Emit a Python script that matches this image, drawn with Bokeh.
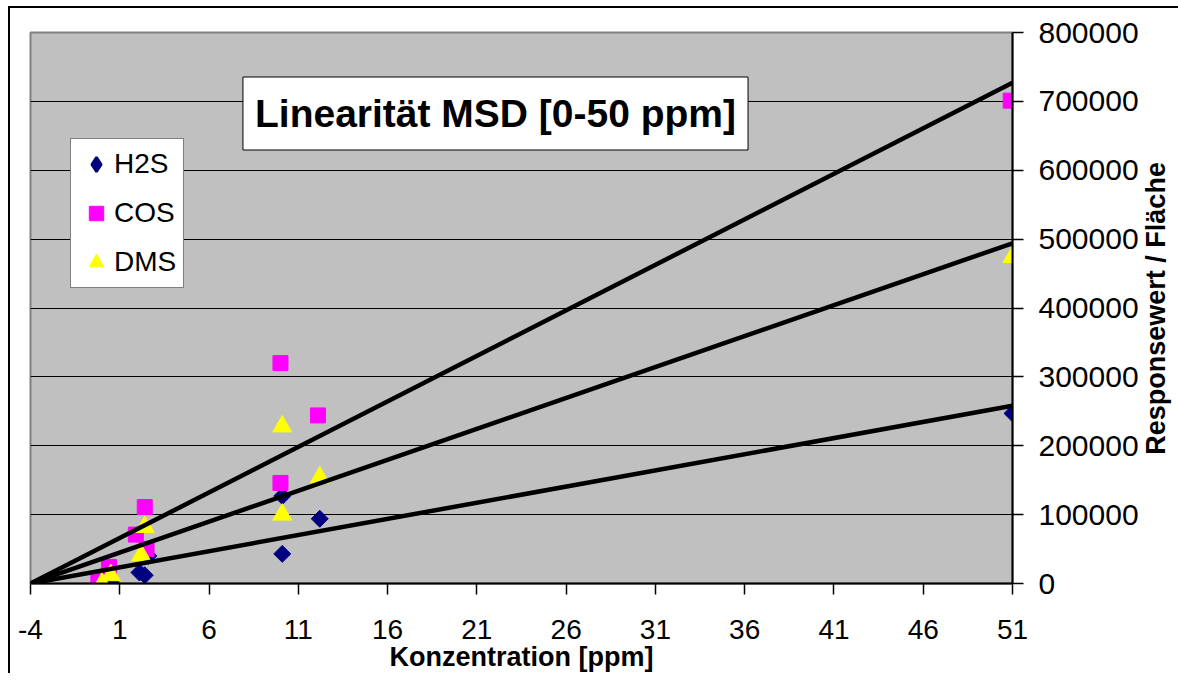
import math
from bokeh.plotting import figure
from bokeh.models import (FixedTicker, BasicTickFormatter, Label, Legend,
                          LegendItem, LinearAxis)
from bokeh.embed import file_html
from bokeh.resources import INLINE

# ---------------- data ----------------
x_ticks = [-4, 1, 6, 11, 16, 21, 26, 31, 36, 41, 46, 51]
y_ticks = [0, 100000, 200000, 300000, 400000, 500000, 600000, 700000, 800000]

h2s_x = [0.5, 2.1, 2.4, 2.6, 10.1, 10.1, 12.2, 51.0]
h2s_y = [2000, 16000, 12000, 40000, 43000, 127000, 94000, 247000]

cos_x = [-0.2, 0.4, 1.9, 2.4, 2.5, 10.0, 10.0, 12.1, 50.9]
cos_y = [4000, 24000, 71000, 111000, 50000, 146000, 320000, 244000, 701000]

dms_x = [0.0, 0.5, 2.2, 2.4, 10.1, 10.1, 12.2, 51.0]
dms_y = [0, 12000, 41000, 82000, 100000, 228000, 154000, 474000]

trend_x = [-4, 51]
trend_h2s = [0, 258000]
trend_cos = [0, 727000]
trend_dms = [0, 494000]

# layout helper: where the rotated right-hand title starts (bottom end of the text)
YTITLE_ANCHOR = 187000

FONT = "Liberation Sans"

p = figure(width=1179, height=667, x_range=(-4, 51), y_range=(0, 800000),
           y_axis_location="right", output_backend="svg", toolbar_location=None,
           min_border_left=20, min_border_top=24, min_border_right=175,
           min_border_bottom=92)

p.styles = {"margin-left": "8px", "margin-top": "6px",
            "border-left": "2px solid black", "border-top": "2px solid black"}
p.background_fill_color = "#C0C0C0"
p.border_fill_color = "white"
p.outline_line_color = "#808080"
p.outline_line_width = 2

p.xgrid.visible = False
p.ygrid.grid_line_color = "black"
p.ygrid.grid_line_width = 1
p.ygrid.grid_line_alpha = 1.0

# axes
p.xaxis.ticker = FixedTicker(ticks=x_ticks)
p.xaxis.major_label_overrides = {t: str(t) for t in x_ticks}
p.yaxis.ticker = FixedTicker(ticks=y_ticks)
p.yaxis.formatter = BasicTickFormatter(use_scientific=False)

for ax in (p.xaxis, p.yaxis):
    ax.axis_line_color = "black"
    ax.axis_line_width = 2
    ax.major_tick_line_color = "black"
    ax.major_tick_line_width = 1.5
    ax.major_tick_in = 0
    ax.major_tick_out = 11
    ax.minor_tick_line_color = None
    ax.major_label_text_font = FONT
    ax.major_label_text_color = "black"
    ax.axis_label_text_font = FONT
    ax.axis_label_text_font_style = "bold"
    ax.axis_label_text_font_size = "27px"
    ax.axis_label_text_color = "black"
    ax.axis_label_standoff = 0

p.xaxis.major_label_text_font_size = "28px"
p.xaxis.major_label_standoff = 25
p.xaxis.axis_label = "Konzentration [ppm]"
p.yaxis.major_label_text_font_size = "30px"
p.yaxis.major_label_standoff = 15

# right-hand title, drawn as a single rotated tick label of an extra axis
ytitle_axis = LinearAxis(ticker=FixedTicker(ticks=[YTITLE_ANCHOR]),
                         major_label_overrides={YTITLE_ANCHOR: "Responsewert / Fläche"},
                         major_label_orientation=math.pi / 2,
                         axis_line_color=None, major_tick_line_color=None,
                         minor_tick_line_color=None, major_tick_in=0,
                         major_tick_out=0, major_label_standoff=15,
                         major_label_text_font=FONT,
                         major_label_text_font_style="bold",
                         major_label_text_font_size="27px",
                         major_label_text_color="black")
p.add_layout(ytitle_axis, "right")

# markers
r_h2s = p.scatter(h2s_x, h2s_y, marker="square", angle=math.pi / 4, size=12,
                  fill_color="#000080", line_color="#000080")
r_cos = p.scatter(cos_x, cos_y, marker="square", size=15,
                  fill_color="#FF00FF", line_color="#FF00FF")
r_dms = p.scatter(dms_x, dms_y, marker="triangle", size=19,
                  fill_color="#FFFF00", line_color="#FFFF00")
# hidden proxy so that the legend shows a diamond symbol for H2S
r_h2s_leg = p.scatter(h2s_x, h2s_y, marker="diamond", size=12, visible=False,
                      fill_color="#000080", line_color="#000080",
                      line_width=2.5)

# trend lines
for ty in (trend_h2s, trend_cos, trend_dms):
    p.line(trend_x, ty, line_color="black", line_width=4.5)

# title box
p.add_layout(Label(x=465, y=470, x_units="screen", y_units="screen",
                   text="Linearität MSD [0-50 ppm]", text_font=FONT,
                   text_font_style="bold", text_font_size="39px",
                   text_color="black",
                   text_align="center", text_baseline="middle",
                   background_fill_color="white", border_line_color="black",
                   border_line_width=1, padding=(12, 15)))

legend = Legend(items=[LegendItem(label="H2S", renderers=[r_h2s_leg]),
                       LegendItem(label="COS", renderers=[r_cos]),
                       LegendItem(label="DMS", renderers=[r_dms])],
                location=(40, 295))
legend.border_line_color = "black"
legend.border_line_width = 1
legend.background_fill_color = "white"
legend.background_fill_alpha = 1.0
legend.label_text_font = FONT
legend.label_text_font_size = "28px"
legend.label_text_color = "black"
legend.glyph_width = 36
legend.glyph_height = 36
legend.label_height = 36
legend.spacing = 13
legend.padding = 7
legend.margin = 0
legend.label_standoff = 0
p.add_layout(legend)

open("out.html", "w").write(file_html(p, INLINE))
